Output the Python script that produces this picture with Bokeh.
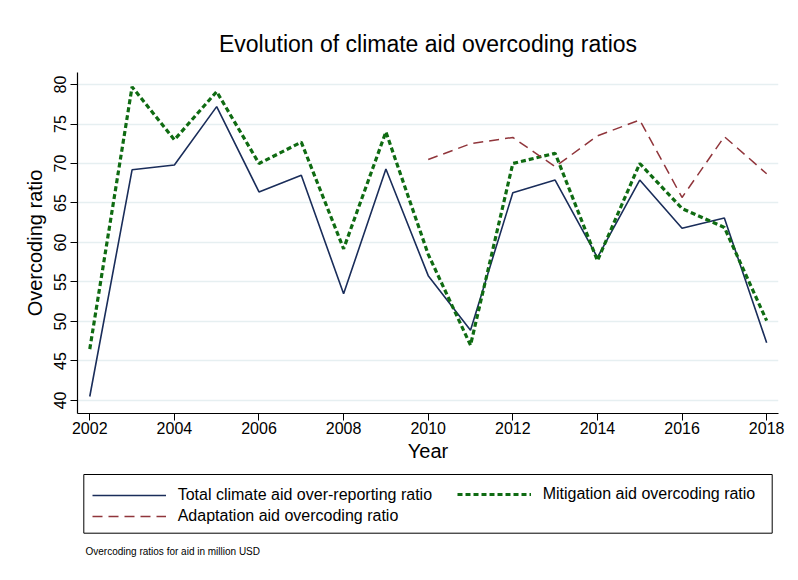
from bokeh.plotting import figure
from bokeh.layouts import column
from bokeh.models import Legend, LegendItem, Range1d, FixedTicker, BoxAnnotation
from bokeh.embed import file_html
from bokeh.resources import INLINE

years = list(range(2002, 2019))
total = [40.5, 69.2, 69.8, 77.2, 66.4, 68.5, 53.5, 69.3, 55.8, 48.9, 66.3, 67.9, 58.1, 67.9, 61.8, 63.1, 47.3]
mitigation = [46.5, 79.7, 73.0, 79.1, 70.0, 72.7, 59.2, 74.0, 58.5, 47.0, 70.0, 71.3, 57.7, 70.0, 64.3, 61.9, 50.1]
adapt_years = list(range(2010, 2019))
adaptation = [70.5, 72.5, 73.3, 69.6, 73.5, 75.5, 65.7, 73.4, 68.7]
x_ticks = list(range(2002, 2019, 2))
y_ticks = list(range(40, 81, 5))

FONT = "Liberation Sans"
NAVY, GREEN, MAROON = "#1a2d5a", "#0f6b12", "#90353b"
GREEN_DASH, MAROON_DASH = "5 3", "10 6"

p = figure(width=796, height=470, output_backend="svg", toolbar_location=None,
           x_range=Range1d(2001.71, 2018.28), y_range=Range1d(38.35, 81.52),
           min_border_left=77, min_border_right=18, min_border_top=72, min_border_bottom=57)
p.outline_line_color = None
p.background_fill_color = "white"
p.border_fill_color = "white"

p.title.text = "Evolution of climate aid overcoding ratios"
p.title.align = "center"
p.title.text_font = FONT
p.title.text_font_size = "23px"
p.title.text_font_style = "normal"
p.title.text_color = "black"
p.title.standoff = 31

p.xgrid.visible = False
p.ygrid.grid_line_color = "#e6eff1"
p.ygrid.grid_line_width = 1.5
p.ygrid.ticker = FixedTicker(ticks=y_ticks)

for ax in (p.xaxis[0], p.yaxis[0]):
    ax.axis_line_color = "black"
    ax.axis_line_width = 1.2
    ax.major_tick_line_color = "black"
    ax.major_tick_out = 7
    ax.major_tick_in = 0
    ax.minor_tick_line_color = None
    ax.major_label_text_font = FONT
    ax.major_label_text_font_size = "16px"
    ax.major_label_text_color = "black"
    ax.axis_label_text_font = FONT
    ax.axis_label_text_font_size = "20px"
    ax.axis_label_text_font_style = "normal"
    ax.axis_label_text_color = "black"

p.xaxis.major_label_standoff = 1
p.yaxis.major_label_standoff = 4
p.xaxis.ticker = FixedTicker(ticks=x_ticks)
p.yaxis.ticker = FixedTicker(ticks=y_ticks)
p.yaxis.major_label_orientation = "parallel"
p.xaxis.axis_label = "Year"
p.yaxis.axis_label = "Overcoding ratio"
p.xaxis.axis_label_standoff = 3
p.yaxis.axis_label_standoff = 6

p.line(years, total, line_color=NAVY, line_width=1.6)
p.line(years, mitigation, line_color=GREEN, line_width=3.2, line_dash=GREEN_DASH)
p.line(adapt_years, adaptation, line_color=MAROON, line_width=1.5, line_dash=MAROON_DASH)

# legend + note strip (its frame is aligned with the main frame by the column layout)
q = figure(width=796, height=108, output_backend="svg", toolbar_location=None,
           x_range=Range1d(0, 701), y_range=Range1d(0, 70), title_location="below",
           min_border_left=77, min_border_right=18, min_border_top=0, min_border_bottom=38)
q.axis.visible = False
q.grid.visible = False
q.outline_line_color = None
q.background_fill_color = "white"
q.border_fill_color = "white"
q.title.text = "Overcoding ratios for aid in million USD"
q.title.align = "left"
q.title.offset = 8
q.title.standoff = 6
q.title.text_font = FONT
q.title.text_font_size = "10px"
q.title.text_font_style = "normal"
q.title.text_color = "black"

# legend frame box
q.add_layout(BoxAnnotation(left=6.3, right=694.7, bottom=7.3, top=66,
                           fill_color=None, line_color="black", line_width=1, line_alpha=1))

# legend keys reuse the series (they fall outside this strip's ranges, so only the keys show)
l1 = q.line(years, total, line_color=NAVY, line_width=1.6)
l2 = q.line(years, mitigation, line_color=GREEN, line_width=3.2, line_dash=GREEN_DASH)
l3 = q.line(adapt_years, adaptation, line_color=MAROON, line_width=1.5, line_dash=MAROON_DASH)


def make_legend(items, loc):
    lg = Legend(items=items, location=loc, orientation="vertical")
    lg.label_text_font = FONT
    lg.label_text_font_size = "16px"
    lg.label_text_color = "black"
    lg.glyph_width = 74
    lg.glyph_height = 18
    lg.label_height = 18
    lg.label_standoff = 12
    lg.spacing = 3
    lg.padding = 0
    lg.margin = 0
    lg.border_line_color = None
    lg.background_fill_alpha = 0
    return lg


legend1 = make_legend([
    LegendItem(label="Total climate aid over-reporting ratio", renderers=[l1]),
    LegendItem(label="Adaptation aid overcoding ratio", renderers=[l3]),
], (14.7, 15.5))
legend2 = make_legend([
    LegendItem(label="Mitigation aid overcoding ratio", renderers=[l2]),
], (379.7, 37))
q.add_layout(legend1, "center")
q.add_layout(legend2, "center")

layout = column(p, q, spacing=0)
open("out.html", "w").write(file_html(layout, INLINE))
